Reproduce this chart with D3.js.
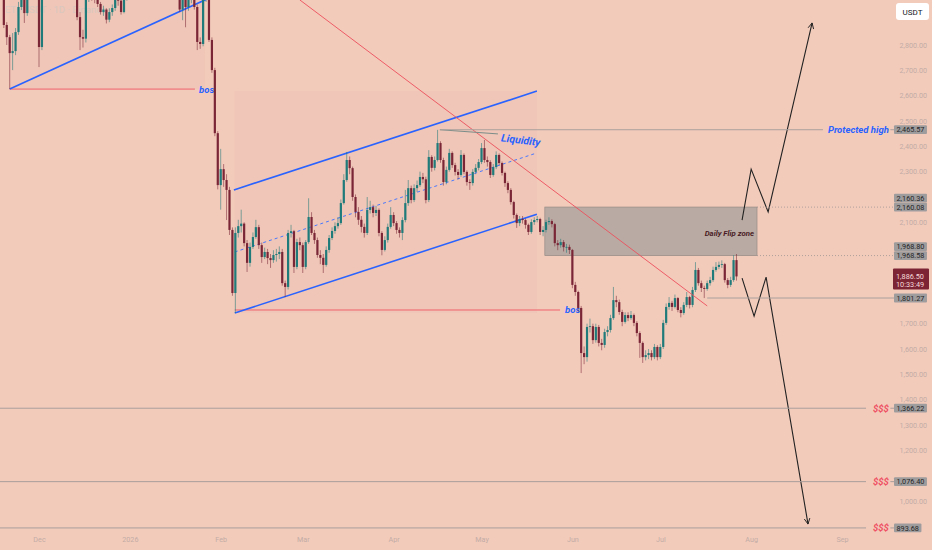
<!DOCTYPE html>
<html>
<head>
<meta charset="utf-8">
<script src="https://cdn.jsdelivr.net/npm/d3@7"></script>
<style>
  html, body { margin: 0; padding: 0; background: #f3cbbb; }
  svg { display: block; font-family: Roboto, "Open Sans", sans-serif; }
</style>
</head>
<body>
<svg id="chart" width="932" height="550"></svg>
<script>
// ETHUSDT daily candles, first bar = 2025-11-19, open of each bar = previous close
const firstDay = new Date(2025, 10, 19);
const firstOpen = 2990;

const closes = [
  2879,2831,2768,2776,2851,2950,3030,2926,3010,3060,
  3090,3040,2792,3010,3060,3100,3080,3120,3150,3110,
  3090,3130,3100,3060,3020,2910,2831,2825,2990,3020,
  3000,2990,2962,2930,2940,2900,2930,2946,2980,2975,
  2930,2985,3010,3040,3080,3120,3150,3200,3180,3220,
  3260,3300,3280,3310,3290,3250,3210,3180,3140,3100,
  2940,3010,2950,2990,3020,2950,2812,2804,3000,3005,
  2820,2701,2452,2247,2310,2267,2228,2070,1821,2058,
  2085,2095,2018,1940,2003,2042,2081,2010,1963,1983,
  1959,1951,1971,1975,1983,1860,1845,2058,2065,1924,
  2022,2010,1924,2022,2121,2058,2030,1971,1960,1932,
  1991,2038,2066,2085,2097,2176,2267,2346,2314,2200,
  2141,2110,2082,2058,2149,2160,2137,2149,2058,1991,
  2030,2082,2129,2097,2070,2058,2109,2176,2235,2188,
  2235,2247,2279,2270,2188,2358,2315,2346,2413,2346,
  2259,2307,2374,2326,2299,2287,2366,2299,2259,2255,
  2299,2315,2338,2393,2346,2338,2287,2318,2366,2334,
  2295,2255,2228,2180,2129,2097,2113,2109,2090,2062,
  2101,2109,2113,2062,2070,2101,2105,2093,2018,2010,
  2022,2002,2003,1991,1853,1825,1762,1584,1568,1687,
  1690,1635,1687,1624,1616,1667,1675,1722,1793,1785,
  1746,1707,1734,1722,1734,1703,1663,1624,1568,1576,
  1584,1568,1608,1568,1608,1703,1766,1782,1766,1801,
  1754,1742,1774,1805,1774,1833,1912,1860,1841,1837,
  1860,1872,1912,1924,1932,1935,1872,1853,1872,1951,
  1886.5
];

const highs = [
  3010,2890,2840,2847,2867,2970,3060,3050,3040,3090,
  3120,3110,3060,3040,3090,3140,3130,3160,3190,3170,
  3130,3170,3150,3120,3080,3030,2930,2860,3010,3040,
  3040,3030,2990,2970,2955,2945,2945,2960,3000,3000,
  2980,3000,3030,3060,3100,3150,3190,3230,3240,3260,
  3300,3330,3340,3350,3340,3310,3270,3230,3200,3160,
  3120,3040,3020,3010,3050,3030,2960,2830,3020,3030,
  3010,2830,2710,2460,2390,2330,2290,2240,2080,2080,
  2110,2150,2100,2030,2020,2060,2110,2090,2020,2000,
  1995,1975,1990,1995,2005,1995,1870,2070,2090,2070,
  2035,2040,2020,2030,2195,2140,2070,2040,1990,1975,
  2005,2050,2080,2100,2120,2190,2290,2378,2360,2320,
  2210,2160,2125,2095,2200,2185,2170,2165,2155,2065,
  2045,2095,2160,2140,2105,2080,2120,2228,2267,2245,
  2250,2265,2300,2295,2280,2385,2365,2360,2465,2420,
  2355,2320,2390,2380,2335,2310,2385,2372,2305,2270,
  2310,2330,2350,2413,2425,2360,2345,2330,2380,2372,
  2340,2300,2262,2235,2185,2135,2125,2125,2115,2095,
  2112,2120,2125,2118,2085,2110,2120,2112,2098,2030,
  2035,2030,2015,2012,1995,1865,1830,1770,1610,1700,
  1720,1700,1700,1695,1640,1680,1690,1735,1845,1810,
  1795,1755,1745,1745,1750,1740,1710,1670,1630,1595,
  1600,1595,1620,1615,1620,1715,1780,1805,1790,1815,
  1805,1765,1785,1825,1810,1845,1943,1920,1870,1850,
  1870,1885,1925,1943,1945,1950,1940,1880,1885,1970,
  1975
];

const lows = [
  2867,2800,2626,2701,2760,2840,2938,2887,2915,3000,
  3040,3010,2713,2780,2990,3040,3050,3070,3100,3090,
  3050,3080,3070,3030,2990,2898,2780,2790,2810,2970,
  2975,2965,2950,2920,2915,2885,2890,2915,2935,2955,
  2920,2925,2975,3000,3030,3070,3110,3140,3160,3170,
  3200,3240,3250,3260,3250,3220,3180,3140,3110,3060,
  2930,2898,2870,2935,2965,2940,2780,2785,2795,2970,
  2812,2690,2440,2230,2150,2240,2109,2050,1810,1742,
  2040,2060,2005,1904,1925,1995,2035,1995,1940,1955,
  1935,1920,1940,1945,1955,1850,1805,1835,2040,1900,
  1915,1990,1900,1915,2015,2050,2015,1960,1935,1900,
  1925,1980,2030,2055,2075,2090,2170,2260,2290,2185,
  2120,2090,2060,2040,2050,2135,2120,2125,2045,1970,
  1985,2020,2075,2085,2055,2040,2030,2100,2165,2175,
  2180,2220,2240,2255,2175,2180,2300,2305,2340,2335,
  2245,2250,2300,2315,2285,2270,2280,2290,2245,2228,
  2245,2290,2305,2330,2335,2320,2275,2280,2310,2325,
  2285,2240,2215,2170,2115,2078,2085,2095,2075,2050,
  2055,2090,2100,2050,2045,2060,2090,2080,2005,1990,
  2000,1985,1980,1975,1840,1810,1745,1505,1540,1550,
  1665,1620,1625,1610,1595,1605,1650,1665,1715,1765,
  1735,1690,1700,1710,1715,1690,1650,1565,1545,1555,
  1560,1555,1560,1555,1560,1600,1695,1755,1750,1760,
  1745,1725,1735,1765,1760,1765,1825,1850,1825,1801,
  1830,1850,1865,1905,1915,1920,1862,1840,1845,1865,
  1870
];

// drawings, as [bar index, price]
const risingLineLeft = [[2, 2626], [69, 2980]];
const channelUpper = [[78.5, 2228], [181.9, 2618]];
const channelMid = [[78.8, 1983], [181.9, 2374]];
const channelLower = [[78.8, 1742], [181.9, 2132]];
const redTrend = [[101, 2978], [240, 1770]];
const bullPath = [[251.9, 2109], [255, 2310], [260.8, 2141], [275.8, 2887]];
const bearPath = [[251.9, 1880], [256, 1730], [260.1, 1884], [274.4, 909]];
const liquidityPointer = [[148.8, 2465.57], [168.6, 2449]];
const bosLines = [{ from: 2, to: 65.2, price: 2626, textAt: 66.6 }, { from: 78.8, to: 189.8, price: 1754, textAt: 191.5 }];
const flipZone = { from: 184.6, to: 257, top: 2160.36, bottom: 1968.58 };
const protectedHigh = { from: 148.8, to: 279.5, price: 2465.57 };
const targetLevels = [1366.22, 1076.40, 893.68];
const axisMarks = [2465.57, 2160.36, 2160.08, 1968.80, 1968.58, 1801.27, 1366.22, 1076.40, 893.68];
const lastPrice = 1886.50;
const countdown = '10:33:49';
const priceTicks = d3.range(900, 3000, 100);
const monthTicks = [new Date(2025, 11, 1), new Date(2026, 0, 1), new Date(2026, 1, 1), new Date(2026, 2, 1), new Date(2026, 3, 1),
  new Date(2026, 4, 1), new Date(2026, 5, 1), new Date(2026, 6, 1), new Date(2026, 7, 1), new Date(2026, 8, 1)];

const W = 932, H = 550;
const plotRight = 894;
const UP = '#1f7a7a', DOWN = '#7b2637', BLUE = '#2962ff';

const svg = d3.select('#chart');
svg.append('rect').attr('width', W).attr('height', H).attr('fill', '#f3cbbb');

const x = d3.scaleTime().domain([monthTicks[0], monthTicks[9]]).range([39, 842]);
const y = d3.scaleLinear().domain([1000, 2800]).range([501, 45]);
const xi = i => x(new Date(firstDay.getTime() + i * 864e5));
const pt = d => [xi(d[0]), y(d[1])];
const line = d3.line().x(d => xi(d[0])).y(d => y(d[1]));

const defs = svg.append('defs');
defs.append('clipPath').attr('id', 'plotClip')
  .append('rect').attr('x', 0).attr('y', 0).attr('width', plotRight).attr('height', 532);
defs.append('marker').attr('id', 'arrowOpen')
  .attr('viewBox', '0 0 10 10').attr('refX', 9).attr('refY', 5)
  .attr('markerWidth', 7).attr('markerHeight', 7).attr('markerUnits', 'userSpaceOnUse')
  .attr('orient', 'auto')
  .append('path').attr('d', 'M1,1 L9,5 L1,9').attr('fill', 'none').attr('stroke', '#222').attr('stroke-width', 1.3);

const plot = svg.append('g').attr('clip-path', 'url(#plotClip)');

// watermark
plot.append('text').attr('x', 5).attr('y', 13).attr('font-size', 9.5)
  .attr('fill', '#dccbc3').text('ETHUSDT · 1D · Binance');

// shaded drawing areas (very faint)
plot.append('rect')
  .attr('x', xi(risingLineLeft[0][0])).attr('y', y(3400))
  .attr('width', xi(risingLineLeft[1][0] - 0.4) - xi(risingLineLeft[0][0]))
  .attr('height', y(risingLineLeft[0][1]) - y(3400))
  .attr('fill', '#8a5a4a').attr('opacity', 0.035);
plot.append('rect')
  .attr('x', xi(channelLower[0][0])).attr('y', y(channelUpper[1][1]))
  .attr('width', xi(channelUpper[1][0]) - xi(channelLower[0][0]))
  .attr('height', y(channelLower[0][1]) - y(channelUpper[1][1]))
  .attr('fill', '#8a5a4a').attr('opacity', 0.035);

// flip zone
plot.append('rect')
  .attr('x', xi(flipZone.from)).attr('y', y(flipZone.top))
  .attr('width', xi(flipZone.to) - xi(flipZone.from))
  .attr('height', y(flipZone.bottom) - y(flipZone.top))
  .attr('fill', '#b9aba3').attr('stroke', '#958b86').attr('stroke-width', 0.7);

// horizontal levels
const levelG = svg.append('g');
[2160.08, 1968.80].forEach(p => {
  levelG.append('line').attr('x1', xi(flipZone.to)).attr('x2', plotRight)
    .attr('y1', y(p)).attr('y2', y(p))
    .attr('stroke', '#9e9692').attr('stroke-width', 0.8).attr('stroke-dasharray', '1,2');
});
levelG.append('line').attr('x1', xi(protectedHigh.from)).attr('x2', xi(protectedHigh.to))
  .attr('y1', y(protectedHigh.price)).attr('y2', y(protectedHigh.price))
  .attr('stroke', '#aaa09d').attr('stroke-width', 1);
levelG.append('line').attr('x1', xi(302.5)).attr('x2', plotRight)
  .attr('y1', y(protectedHigh.price)).attr('y2', y(protectedHigh.price))
  .attr('stroke', '#aaa09d').attr('stroke-width', 1);
levelG.append('line').attr('x1', xi(240)).attr('x2', plotRight)
  .attr('y1', y(1801.27)).attr('y2', y(1801.27))
  .attr('stroke', '#aaa09d').attr('stroke-width', 1);
targetLevels.forEach(p => {
  levelG.append('line').attr('x1', 0).attr('x2', xi(294.2))
    .attr('y1', y(p)).attr('y2', y(p)).attr('stroke', '#a89e9b').attr('stroke-width', 1);
  levelG.append('line').attr('x1', xi(302.5)).attr('x2', plotRight)
    .attr('y1', y(p)).attr('y2', y(p)).attr('stroke', '#a89e9b').attr('stroke-width', 1);
  levelG.append('text').attr('x', xi(302)).attr('y', y(p) + 3.5)
    .attr('text-anchor', 'end').attr('font-size', 9.5).attr('font-weight', 'bold')
    .attr('font-style', 'italic').attr('fill', '#ee4f62').text('$$$');
});

// bos lines
bosLines.forEach(b => {
  plot.append('line').attr('x1', xi(b.from)).attr('x2', xi(b.to))
    .attr('y1', y(b.price)).attr('y2', y(b.price))
    .attr('stroke', '#f0616b').attr('stroke-width', 1);
  plot.append('text').attr('x', xi(b.textAt)).attr('y', y(b.price) + 3.5)
    .attr('font-size', 9.5).attr('font-weight', 'bold').attr('font-style', 'italic')
    .attr('fill', BLUE).text('bos');
});

// trend / channel lines
[risingLineLeft, channelUpper, channelLower].forEach(l => {
  plot.append('path').attr('d', line(l)).attr('stroke', BLUE).attr('stroke-width', 1.6).attr('fill', 'none');
});
plot.append('path').attr('d', line(channelMid)).attr('stroke', '#4a78ff')
  .attr('stroke-width', 1).attr('stroke-dasharray', '3,3').attr('fill', 'none');

// candles
const candles = closes.map((c, i) => ({
  i, o: i ? closes[i - 1] : firstOpen, h: highs[i], l: lows[i], c
}));
const cg = plot.append('g');
cg.selectAll('line.wick').data(candles).join('line')
  .attr('class', 'wick')
  .attr('x1', d => xi(d.i)).attr('x2', d => xi(d.i))
  .attr('y1', d => y(d.h)).attr('y2', d => y(d.l))
  .attr('stroke', d => d.c >= d.o ? UP : DOWN).attr('stroke-width', 1).attr('opacity', 0.55);
cg.selectAll('rect.body').data(candles).join('rect')
  .attr('class', 'body')
  .attr('x', d => xi(d.i) - 1.1).attr('width', 2.2)
  .attr('y', d => y(Math.max(d.o, d.c)))
  .attr('height', d => Math.max(0.8, Math.abs(y(d.o) - y(d.c))))
  .attr('fill', d => d.c >= d.o ? UP : DOWN);

// red descending trend line
plot.append('path').attr('d', line(redTrend)).attr('stroke', '#ec4f5c')
  .attr('stroke-width', 0.9).attr('fill', 'none');

// liquidity pointer
plot.append('path').attr('d', line(liquidityPointer)).attr('stroke', '#7b8d89')
  .attr('stroke-width', 1).attr('fill', 'none');
const [lqx, lqy] = pt([169.6, 2420]);
plot.append('text').attr('transform', `translate(${lqx},${lqy}) rotate(7)`)
  .attr('font-size', 10.5).attr('font-weight', 'bold').attr('font-style', 'italic')
  .attr('fill', BLUE).text('Liquidity');

// text labels
plot.append('text').attr('x', xi(256)).attr('y', y(2048))
  .attr('text-anchor', 'end').attr('font-size', 7.8).attr('font-weight', 'bold')
  .attr('font-style', 'italic').attr('fill', '#4a1b25').text('Daily Flip zone');
plot.append('text').attr('x', xi(302)).attr('y', y(protectedHigh.price) + 3.5)
  .attr('text-anchor', 'end').attr('font-size', 9.5).attr('font-weight', 'bold')
  .attr('font-style', 'italic').attr('fill', BLUE).text('Protected high');

// projection paths
[bullPath, bearPath].forEach(p => {
  plot.append('path').attr('d', line(p)).attr('stroke', '#222').attr('stroke-width', 1.1)
    .attr('fill', 'none').attr('marker-end', 'url(#arrowOpen)');
});

// axis value boxes: stack overlapping labels upward
const fmt = d3.format(',.2f');
const marks = axisMarks.map(p => ({ p, y: y(p) })).sort((a, b) => b.y - a.y);
for (let k = 1; k < marks.length; k++) {
  if (marks[k].y > marks[k - 1].y - 9) marks[k].y = marks[k - 1].y - 9;
}
const ly = y(lastPrice);
const occupied = marks.map(m => [m.y - 4.4, m.y + 4.4]).concat([[ly - 8, ly + 13], [3, 21]]);

// price axis (tick labels hidden where a value box sits)
const yAxis = svg.append('g').attr('transform', 'translate(927,0)')
  .call(d3.axisRight(y).tickValues(priceTicks).tickFormat(fmt).tickSize(0));
yAxis.select('.domain').remove();
yAxis.selectAll('.tick').filter(d => occupied.some(([a, b]) => y(d) + 3 > a && y(d) - 3 < b)).remove();
yAxis.selectAll('text').attr('x', 0).attr('text-anchor', 'end')
  .attr('font-size', 7.2).attr('font-family', 'Roboto, sans-serif').attr('fill', '#c2aca5');

// time axis
const xAxis = svg.append('g').attr('transform', 'translate(0,534)')
  .call(d3.axisBottom(x).tickValues(monthTicks)
    .tickFormat(d => d.getMonth() === 0 ? '2026' : d3.timeFormat('%b')(d)).tickSize(0));
xAxis.select('.domain').remove();
xAxis.selectAll('text').attr('font-size', 7.2).attr('font-family', 'Roboto, sans-serif').attr('fill', '#c2aca5');

const boxG = svg.append('g');
marks.forEach(m => {
  const g = boxG.append('g');
  const r = g.append('rect').attr('x', 894).attr('y', m.y - 4.4).attr('height', 8.8)
    .attr('fill', '#9f9c9d').attr('rx', 1);
  const t = g.append('text').attr('x', 896.5).attr('y', m.y + 2.6)
    .attr('font-size', 7.3).attr('fill', '#262626').text(fmt(m.p));
  r.attr('width', t.node().getComputedTextLength() + 5);
});
boxG.append('rect').attr('x', 893).attr('y', ly - 8).attr('width', 36).attr('height', 21)
  .attr('fill', '#7c2434').attr('rx', 1);
boxG.append('text').attr('x', 896).attr('y', ly + 2.5).attr('font-size', 7.3)
  .attr('fill', '#f6dada').text(fmt(lastPrice));
boxG.append('text').attr('x', 896).attr('y', ly + 10.5).attr('font-size', 7.3)
  .attr('fill', '#f6dada').text(countdown);

// currency button
svg.append('rect').attr('x', 896).attr('y', 3).attr('width', 33).attr('height', 17)
  .attr('rx', 3).attr('fill', '#ffffff');
svg.append('text').attr('x', 912.5).attr('y', 14.5).attr('text-anchor', 'middle')
  .attr('font-size', 8).attr('fill', '#131722').text('USDT');
</script>
</body>
</html>
